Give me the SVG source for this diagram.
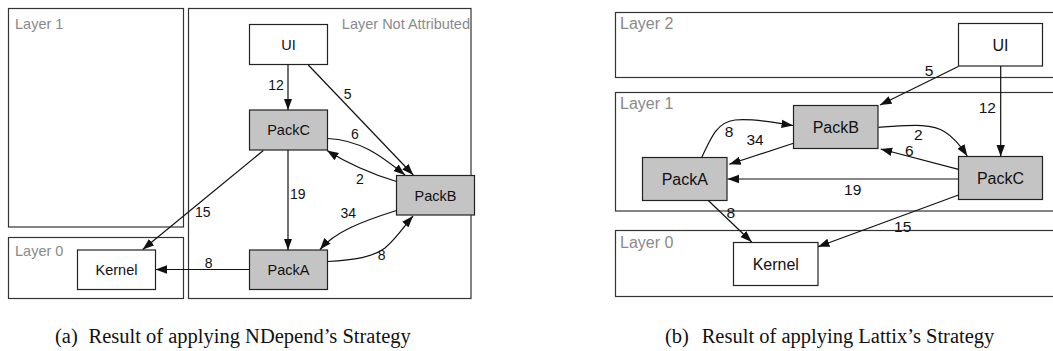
<svg xmlns="http://www.w3.org/2000/svg" width="1053" height="351" viewBox="0 0 1053 351">
<style>
.layer{fill:#fff;stroke:#333;stroke-width:1.2}
.ll{font-family:"Liberation Sans",Arial,sans-serif;fill:#8a8a8a}
.node{stroke:#222;stroke-width:1.2}
.plain{fill:#fff}
.pack{fill:#c4c4c4}
.nl{font-family:"Liberation Sans",Arial,sans-serif;fill:#111;text-anchor:middle}
.e{fill:none;stroke:#111;stroke-width:1.2;marker-end:url(#arr)}
.el{font-family:"Liberation Sans",Arial,sans-serif;fill:#111;text-anchor:middle}
.cap{font-family:"Liberation Serif","Times New Roman",serif;font-size:20.5px;fill:#111}
.a .ll,.a .nl{font-size:14.5px}
.a .el{font-size:14px}
.b .ll,.b .nl{font-size:16px}
.b .el{font-size:15.5px}
</style>
<defs>
<marker id="arr" markerUnits="userSpaceOnUse" markerWidth="12" markerHeight="10" viewBox="0 0 12 10" refX="11.5" refY="5" orient="auto">
<path d="M0,0.8 L11.5,5 L0,9.2 Z" fill="#111"/>
</marker>
</defs>
<rect width="1053" height="351" fill="#fff"/>

<g class="a" id="panel-a">
<g id="a-layer1"><rect class="layer" x="8.5" y="8.5" width="175" height="218.5"/><text class="ll" x="15" y="28.5">Layer 1</text></g>
<g id="a-layer0"><rect class="layer" x="8.5" y="237.5" width="175" height="61"/><text class="ll" x="15" y="255.5">Layer 0</text></g>
<g id="a-layerna"><rect class="layer" x="188.5" y="8.5" width="282.5" height="290"/><text class="ll" x="470" y="28.5" text-anchor="end">Layer Not Attributed</text></g>

<g id="a-UI"><rect class="node plain" x="249.5" y="24.5" width="78" height="40"/><text class="nl" x="288.5" y="49.7">UI</text></g>
<g id="a-PackC"><rect class="node pack" x="249.5" y="110" width="78" height="40"/><text class="nl" x="288.5" y="135.2">PackC</text></g>
<g id="a-PackB"><rect class="node pack" x="396.5" y="175.5" width="78" height="39.5"/><text class="nl" x="435.5" y="200.5">PackB</text></g>
<g id="a-PackA"><rect class="node pack" x="249.5" y="250" width="78" height="39.5"/><text class="nl" x="288.5" y="275">PackA</text></g>
<g id="a-Kernel"><rect class="node plain" x="77.5" y="250" width="78" height="39.5"/><text class="nl" x="116.5" y="275">Kernel</text></g>

<g id="a-edges">
<path class="e" d="M288,64.5 L288,110"/>
<path class="e" d="M308.3,65 L413.3,175"/>
<path class="e" d="M327.5,138.5 C360,140 380,155 405,175"/>
<path class="e" d="M396.5,181.5 C375,175 350,165 327,150.5"/>
<path class="e" d="M288,150 L288,250"/>
<path class="e" d="M263.3,150.5 L142.7,249.5"/>
<path class="e" d="M396.5,210.5 C360,222 335,232 320,249.5"/>
<path class="e" d="M327.5,261.5 C355,260 373,257 385,248 C397,238 405,225 413,216"/>
<path class="e" d="M249.5,269.5 L155.5,269.5"/>
<text class="el" x="276" y="90">12</text>
<text class="el" x="347.7" y="99">5</text>
<text class="el" x="355" y="139">6</text>
<text class="el" x="360" y="184">2</text>
<text class="el" x="297.7" y="199">19</text>
<text class="el" x="202.7" y="217">15</text>
<text class="el" x="348.3" y="218">34</text>
<text class="el" x="381.7" y="260">8</text>
<text class="el" x="208.7" y="268">8</text>
</g>
</g>

<g class="b" id="panel-b">
<g id="b-layer2"><rect class="layer" x="615.5" y="12.5" width="440" height="65"/><text class="ll" x="620" y="29">Layer 2</text></g>
<g id="b-layer1"><rect class="layer" x="615.5" y="92.5" width="440" height="118.5"/><text class="ll" x="620" y="109.3">Layer 1</text></g>
<g id="b-layer0"><rect class="layer" x="615.5" y="230.5" width="440" height="66"/><text class="ll" x="620" y="247.5">Layer 0</text></g>

<g id="b-UI"><rect class="node plain" x="958.5" y="23.5" width="84" height="42.5"/><text class="nl" x="1000.5" y="50.5">UI</text></g>
<g id="b-PackB"><rect class="node pack" x="793.5" y="105.5" width="84.5" height="43"/><text class="nl" x="835.8" y="132.7">PackB</text></g>
<g id="b-PackA"><rect class="node pack" x="642.5" y="157.5" width="84.5" height="43"/><text class="nl" x="684.8" y="184.7">PackA</text></g>
<g id="b-PackC"><rect class="node pack" x="958.5" y="156.5" width="84" height="43"/><text class="nl" x="1000.5" y="183.7">PackC</text></g>
<g id="b-Kernel"><rect class="node plain" x="733.5" y="242.5" width="84.5" height="43"/><text class="nl" x="775.8" y="269.7">Kernel</text></g>

<g id="b-edges">
<path class="e" d="M958.3,66.5 L880,105"/>
<path class="e" d="M1000.7,66 L1000.7,156.5"/>
<path class="e" d="M701.7,157.5 C712,135 718,122 735,120 C755,118 775,123 793,125.5"/>
<path class="e" d="M793.5,143.3 L729.3,164.3"/>
<path class="e" d="M878.5,127.3 C905,126 930,122 945,132 C955,138 962,148 967.3,156"/>
<path class="e" d="M958.5,169.3 L880.7,149"/>
<path class="e" d="M958.5,179 L727.5,179"/>
<path class="e" d="M708.3,200.5 L751.7,242"/>
<path class="e" d="M958.5,195 L818,246.7"/>
<text class="el" x="929" y="76">5</text>
<text class="el" x="987.3" y="113">12</text>
<text class="el" x="729" y="137">8</text>
<text class="el" x="755" y="145">34</text>
<text class="el" x="918.3" y="140">2</text>
<text class="el" x="909.3" y="156">6</text>
<text class="el" x="852.7" y="195">19</text>
<text class="el" x="730.7" y="218">8</text>
<text class="el" x="902.7" y="232">15</text>
</g>
</g>

<g id="captions">
<text class="cap" y="343"><tspan x="55">(a)</tspan><tspan x="88.5">Result of applying NDepend’s Strategy</tspan></text>
<text class="cap" y="343"><tspan x="665">(b)</tspan><tspan x="701.7">Result of applying Lattix’s Strategy</tspan></text>
</g>
</svg>
